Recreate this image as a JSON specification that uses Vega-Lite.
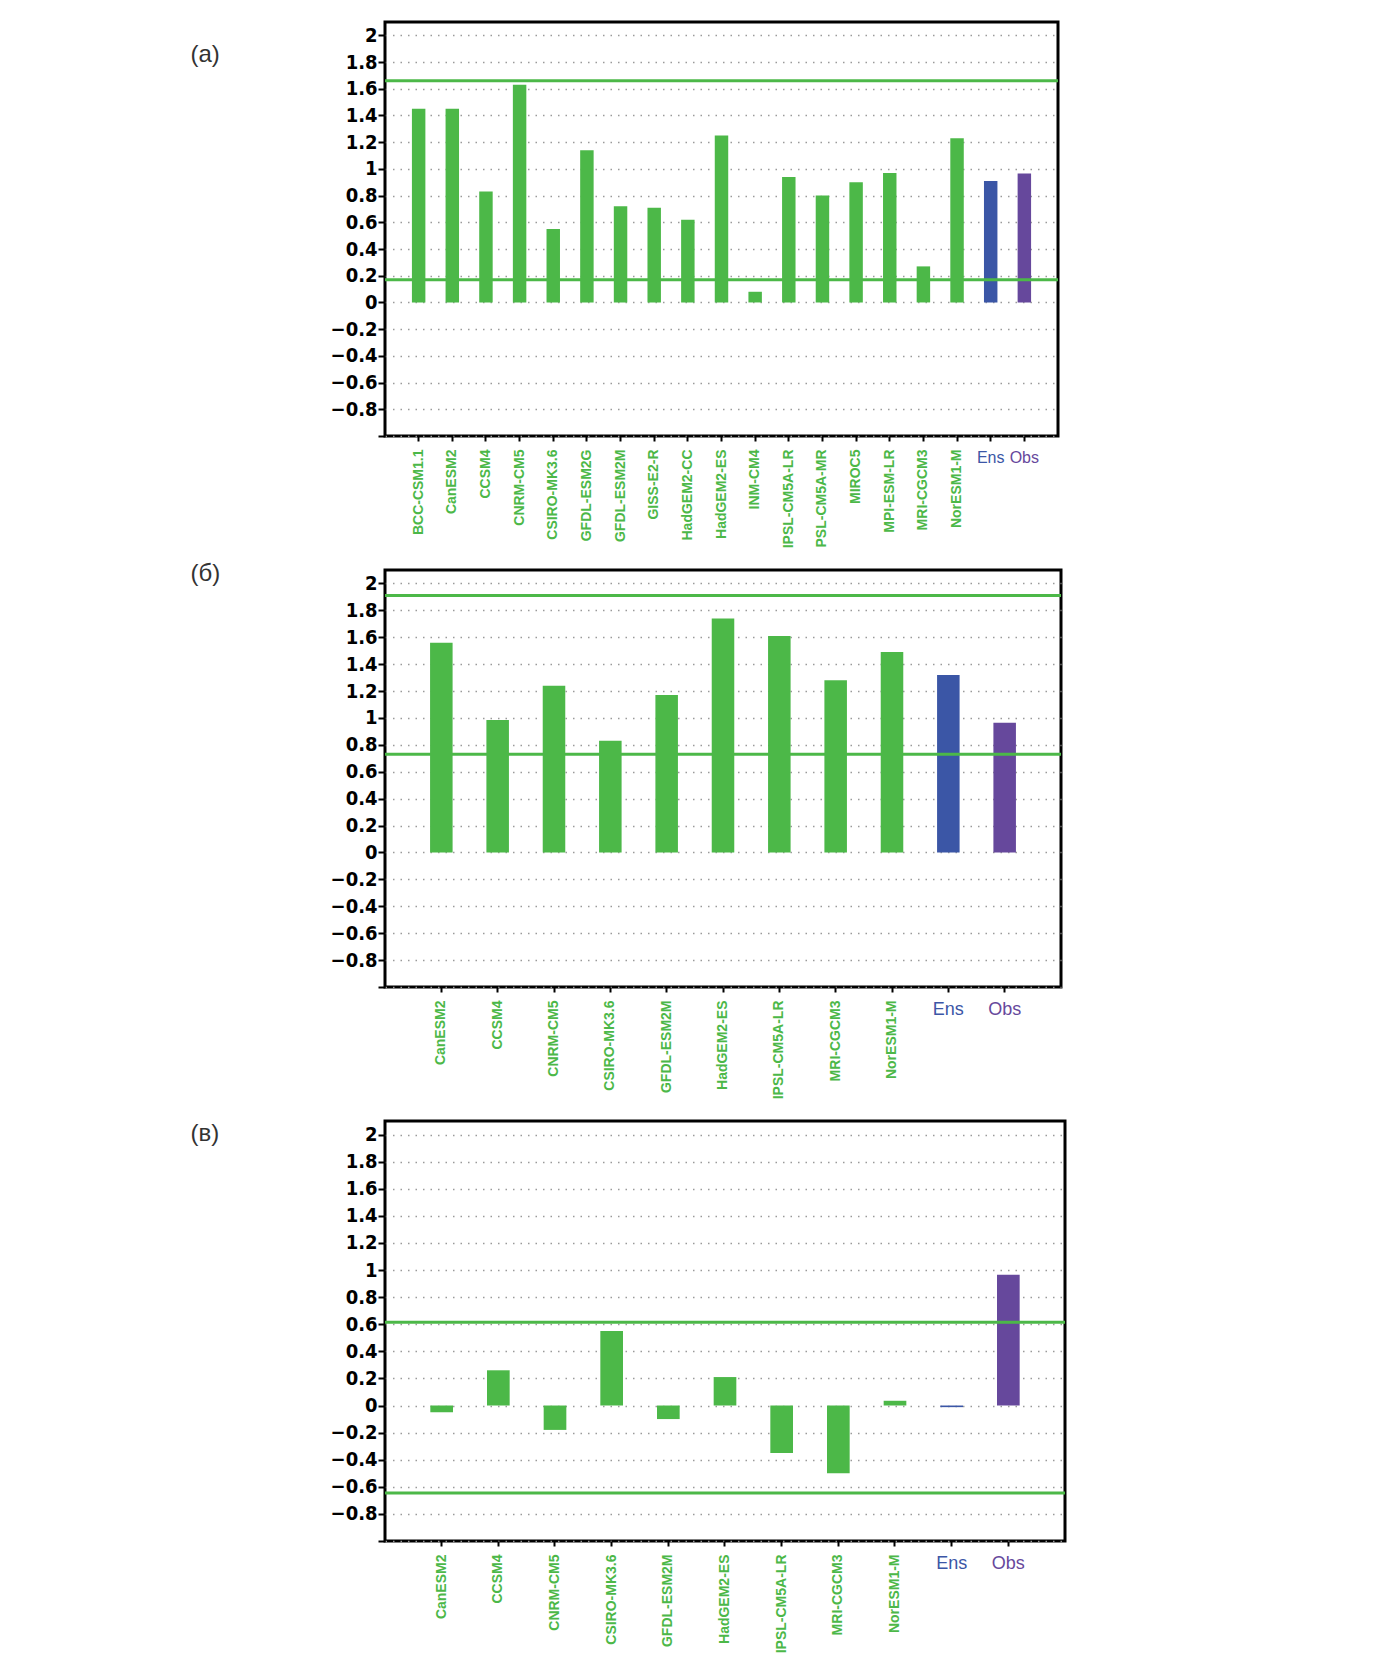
{
  "$schema": "https://vega.github.io/schema/vega-lite/v6.json",
  "padding": {"left": 188, "top": 20, "right": 5, "bottom": 5},
  "background": "white",
  "bounds": "flush",
  "spacing": 134,
  "config": {
    "view": {"stroke": "#000000", "strokeWidth": 3},
    "axisY": {
      "grid": true,
      "gridDash": [1.5, 6],
      "gridColor": "#9a9a9a",
      "gridWidth": 1.3,
      "domain": false,
      "ticks": true,
      "tickSize": 7,
      "tickWidth": 2,
      "tickColor": "#000000",
      "labelFont": "Liberation Sans Narrow, DejaVu Sans Condensed, Arial Narrow, sans-serif",
      "labelFontSize": 20,
      "labelFontWeight": "bold",
      "labelColor": "#000000",
      "labelPadding": 1,
      "labelOverlap": false,
      "labelFlush": false,
      "labelExpr": "datum.value < -0.9 ? '' : format(datum.value, '~g')",
      "titleAngle": 0,
      "titleX": -195,
      "titleAlign": "left",
      "titleBaseline": "middle",
      "titleFont": "Liberation Sans, Arial, sans-serif",
      "titleFontSize": 24,
      "titleFontWeight": "normal",
      "titleColor": "#333333"
    },
    "axisX": {
      "title": null,
      "domain": false,
      "grid": false,
      "ticks": true,
      "tickSize": 5,
      "tickWidth": 2,
      "tickColor": "#000000",
      "labelPadding": 8,
      "labelOverlap": false,
      "labelLimit": 400
    }
  },
  "datasets": {
    "a": [
      {"model": "BCC-CSM1.1", "value": 1.45, "kind": "model"},
      {"model": "CanESM2", "value": 1.45, "kind": "model"},
      {"model": "CCSM4", "value": 0.83, "kind": "model"},
      {"model": "CNRM-CM5", "value": 1.63, "kind": "model"},
      {"model": "CSIRO-MK3.6", "value": 0.55, "kind": "model"},
      {"model": "GFDL-ESM2G", "value": 1.14, "kind": "model"},
      {"model": "GFDL-ESM2M", "value": 0.72, "kind": "model"},
      {"model": "GISS-E2-R", "value": 0.71, "kind": "model"},
      {"model": "HadGEM2-CC", "value": 0.62, "kind": "model"},
      {"model": "HadGEM2-ES", "value": 1.25, "kind": "model"},
      {"model": "INM-CM4", "value": 0.08, "kind": "model"},
      {"model": "IPSL-CM5A-LR", "value": 0.94, "kind": "model"},
      {"model": "PSL-CM5A-MR", "value": 0.8, "kind": "model"},
      {"model": "MIROC5", "value": 0.9, "kind": "model"},
      {"model": "MPI-ESM-LR", "value": 0.97, "kind": "model"},
      {"model": "MRI-CGCM3", "value": 0.27, "kind": "model"},
      {"model": "NorESM1-M", "value": 1.23, "kind": "model"},
      {"model": "Ens", "value": 0.91, "kind": "ens"},
      {"model": "Obs", "value": 0.965, "kind": "obs"}
    ],
    "a_lines": [{"bound": 1.66}, {"bound": 0.17}],
    "b": [
      {"model": "CanESM2", "value": 1.56, "kind": "model"},
      {"model": "CCSM4", "value": 0.985, "kind": "model"},
      {"model": "CNRM-CM5", "value": 1.24, "kind": "model"},
      {"model": "CSIRO-MK3.6", "value": 0.83, "kind": "model"},
      {"model": "GFDL-ESM2M", "value": 1.17, "kind": "model"},
      {"model": "HadGEM2-ES", "value": 1.74, "kind": "model"},
      {"model": "IPSL-CM5A-LR", "value": 1.61, "kind": "model"},
      {"model": "MRI-CGCM3", "value": 1.28, "kind": "model"},
      {"model": "NorESM1-M", "value": 1.49, "kind": "model"},
      {"model": "Ens", "value": 1.32, "kind": "ens"},
      {"model": "Obs", "value": 0.965, "kind": "obs"}
    ],
    "b_lines": [{"bound": 1.91}, {"bound": 0.73}],
    "c": [
      {"model": "CanESM2", "value": -0.05, "kind": "model"},
      {"model": "CCSM4", "value": 0.26, "kind": "model"},
      {"model": "CNRM-CM5", "value": -0.18, "kind": "model"},
      {"model": "CSIRO-MK3.6", "value": 0.55, "kind": "model"},
      {"model": "GFDL-ESM2M", "value": -0.1, "kind": "model"},
      {"model": "HadGEM2-ES", "value": 0.21, "kind": "model"},
      {"model": "IPSL-CM5A-LR", "value": -0.35, "kind": "model"},
      {"model": "MRI-CGCM3", "value": -0.5, "kind": "model"},
      {"model": "NorESM1-M", "value": 0.035, "kind": "model"},
      {"model": "Ens", "value": -0.012, "kind": "ens"},
      {"model": "Obs", "value": 0.965, "kind": "obs"}
    ],
    "c_lines": [{"bound": 0.615}, {"bound": -0.645}]
  },
  "vconcat": [
    {
      "width": 673,
      "height": 414,
      "data": {"name": "a"},
      "resolve": {"axis": {"x": "independent"}},
      "layer": [
        {
          "mark": {"type": "bar"},
          "encoding": {
            "x": {
              "field": "model", "type": "nominal", "sort": null,
              "scale": {"type": "band", "paddingInner": 0.6, "paddingOuter": 0.8},
              "axis": {
                "orient": "bottom", "title": null, "labelAngle": 270, "labelAlign": "right", "labelBaseline": "middle",
                "labelColor": "#4cb848", "labelFontSize": 14, "labelFontWeight": "bold", "labelFont": "Liberation Sans, Arial, sans-serif",
                "labelExpr": "(datum.value === 'Ens' || datum.value === 'Obs') ? '' : datum.label"
              }
            },
            "y": {
              "field": "value", "type": "quantitative",
              "scale": {"domain": [-1, 2.1], "nice": false, "zero": false},
              "axis": {"title": "(а)", "titleY": 32}
            },
            "y2": {"datum": 0},
            "color": {"field": "kind", "type": "nominal", "scale": {"domain": ["model", "ens", "obs"], "range": ["#4cb848", "#3b56a6", "#66489c"]}, "legend": null}
          }
        },
        {
          "mark": {"type": "text"},
          "encoding": {
            "x": {
              "field": "model", "type": "nominal", "sort": null,
              "scale": {"type": "band", "paddingInner": 0.6, "paddingOuter": 0.8},
              "axis": {
                "orient": "bottom", "title": null, "tickOpacity": 0, "labelAngle": 0, "labelAlign": "center", "labelBaseline": "top",
                "labelColor": {"condition": {"test": "datum.value === 'Ens'", "value": "#3b56a6"}, "value": "#66489c"},
                "labelFontSize": 16, "labelFontWeight": "normal", "labelFont": "Liberation Sans Narrow, Arial Narrow, Liberation Sans, Arial, sans-serif",
                "labelExpr": "(datum.value === 'Ens' || datum.value === 'Obs') ? datum.label : ''"
              }
            },
            "y": {"field": "value", "type": "quantitative"},
            "text": {"value": ""}
          }
        },
        {
          "data": {"name": "a_lines"},
          "mark": {"type": "rule", "color": "#4cb848", "strokeWidth": 3},
          "encoding": {"y": {"field": "bound", "type": "quantitative"}}
        }
      ]
    },
    {
      "width": 676,
      "height": 417,
      "data": {"name": "b"},
      "resolve": {"axis": {"x": "independent"}},
      "layer": [
        {
          "mark": {"type": "bar"},
          "encoding": {
            "x": {
              "field": "model", "type": "nominal", "sort": null,
              "scale": {"type": "band", "paddingInner": 0.6, "paddingOuter": 0.8},
              "axis": {
                "orient": "bottom", "title": null, "labelAngle": 270, "labelAlign": "right", "labelBaseline": "middle",
                "labelColor": "#4cb848", "labelFontSize": 14, "labelFontWeight": "bold", "labelFont": "Liberation Sans, Arial, sans-serif",
                "labelExpr": "(datum.value === 'Ens' || datum.value === 'Obs') ? '' : datum.label"
              }
            },
            "y": {
              "field": "value", "type": "quantitative",
              "scale": {"domain": [-1, 2.1], "nice": false, "zero": false},
              "axis": {"title": "(б)", "titleY": 3}
            },
            "y2": {"datum": 0},
            "color": {"field": "kind", "type": "nominal", "scale": {"domain": ["model", "ens", "obs"], "range": ["#4cb848", "#3b56a6", "#66489c"]}, "legend": null}
          }
        },
        {
          "mark": {"type": "text"},
          "encoding": {
            "x": {
              "field": "model", "type": "nominal", "sort": null,
              "scale": {"type": "band", "paddingInner": 0.6, "paddingOuter": 0.8},
              "axis": {
                "orient": "bottom", "title": null, "tickOpacity": 0, "labelAngle": 0, "labelAlign": "center", "labelBaseline": "top",
                "labelColor": {"condition": {"test": "datum.value === 'Ens'", "value": "#3b56a6"}, "value": "#66489c"},
                "labelFontSize": 18, "labelFontWeight": "normal", "labelFont": "Liberation Sans Narrow, Arial Narrow, Liberation Sans, Arial, sans-serif",
                "labelExpr": "(datum.value === 'Ens' || datum.value === 'Obs') ? datum.label : ''"
              }
            },
            "y": {"field": "value", "type": "quantitative"},
            "text": {"value": ""}
          }
        },
        {
          "data": {"name": "b_lines"},
          "mark": {"type": "rule", "color": "#4cb848", "strokeWidth": 3},
          "encoding": {"y": {"field": "bound", "type": "quantitative"}}
        }
      ]
    },
    {
      "width": 680,
      "height": 420,
      "data": {"name": "c"},
      "resolve": {"axis": {"x": "independent"}},
      "layer": [
        {
          "mark": {"type": "bar"},
          "encoding": {
            "x": {
              "field": "model", "type": "nominal", "sort": null,
              "scale": {"type": "band", "paddingInner": 0.6, "paddingOuter": 0.8},
              "axis": {
                "orient": "bottom", "title": null, "labelAngle": 270, "labelAlign": "right", "labelBaseline": "middle",
                "labelColor": "#4cb848", "labelFontSize": 14, "labelFontWeight": "bold", "labelFont": "Liberation Sans, Arial, sans-serif",
                "labelExpr": "(datum.value === 'Ens' || datum.value === 'Obs') ? '' : datum.label"
              }
            },
            "y": {
              "field": "value", "type": "quantitative",
              "scale": {"domain": [-1, 2.1], "nice": false, "zero": false},
              "axis": {"title": "(в)", "titleY": 12}
            },
            "y2": {"datum": 0},
            "color": {"field": "kind", "type": "nominal", "scale": {"domain": ["model", "ens", "obs"], "range": ["#4cb848", "#3b56a6", "#66489c"]}, "legend": null}
          }
        },
        {
          "mark": {"type": "text"},
          "encoding": {
            "x": {
              "field": "model", "type": "nominal", "sort": null,
              "scale": {"type": "band", "paddingInner": 0.6, "paddingOuter": 0.8},
              "axis": {
                "orient": "bottom", "title": null, "tickOpacity": 0, "labelAngle": 0, "labelAlign": "center", "labelBaseline": "top",
                "labelColor": {"condition": {"test": "datum.value === 'Ens'", "value": "#3b56a6"}, "value": "#66489c"},
                "labelFontSize": 18, "labelFontWeight": "normal", "labelFont": "Liberation Sans Narrow, Arial Narrow, Liberation Sans, Arial, sans-serif",
                "labelExpr": "(datum.value === 'Ens' || datum.value === 'Obs') ? datum.label : ''"
              }
            },
            "y": {"field": "value", "type": "quantitative"},
            "text": {"value": ""}
          }
        },
        {
          "data": {"name": "c_lines"},
          "mark": {"type": "rule", "color": "#4cb848", "strokeWidth": 3},
          "encoding": {"y": {"field": "bound", "type": "quantitative"}}
        }
      ]
    }
  ]
}
